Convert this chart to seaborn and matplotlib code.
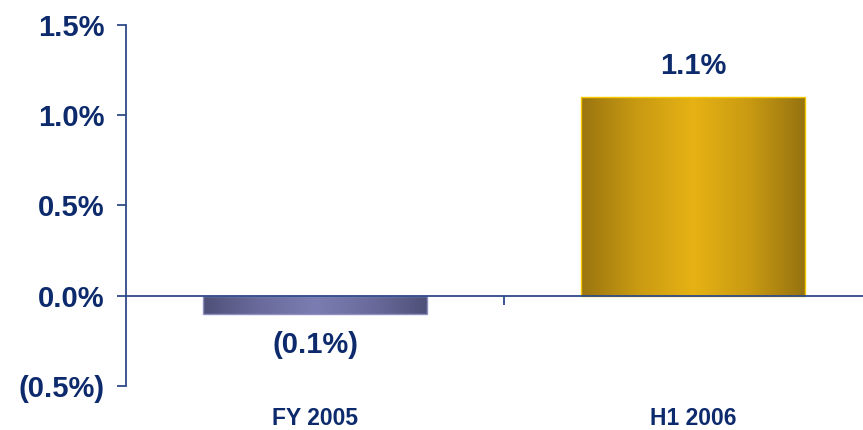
import numpy as np
import pandas as pd
import matplotlib
matplotlib.use("Agg")
import matplotlib.pyplot as plt
import seaborn as sns
from matplotlib import font_manager
from matplotlib.colors import LinearSegmentedColormap

# Data
categories = ["FY 2005", "H1 2006"]
values = [-0.1, 1.1]
value_labels = ["(0.1%)", "1.1%"]
y_ticks = [-0.5, 0.0, 0.5, 1.0, 1.5]
y_tick_labels = ["(0.5%)", "0.0%", "0.5%", "1.0%", "1.5%"]

sns.set_style("white")
plt.rcParams["font.family"] = ["Liberation Sans", "DejaVu Sans"]

# Narrow face for the category labels when available
narrow = "Liberation Sans Narrow"
try:
    font_manager.findfont(font_manager.FontProperties(family=narrow),
                          fallback_to_default=False)
    cat_family = [narrow, "Liberation Sans"]
    cat_size = 20.5
except Exception:
    cat_family = ["Liberation Sans"]
    cat_size = 16.5

NAVY = "#0c2a6c"
AXIS = "#2e4a8a"

# Horizontal shading for each bar: dark edges, bright centre
bar_shades = [
    ["#4f5078", "#6a6b9c", "#7b7db2", "#6a6b9c", "#4f5078"],
    ["#9a7510", "#c99a12", "#e6b214", "#c99a12", "#957210"],
]
bar_edges = ["#8e90c0", "#f5c800"]

fig = plt.figure(figsize=(8.63, 4.30), dpi=100)
ax = fig.add_axes([126 / 863, 44 / 430, 756 / 863, 361.5 / 430])

df = pd.DataFrame({"period": categories, "change": values})
sns.barplot(data=df, x="period", y="change", width=0.595, ax=ax,
            color="#888888", saturation=1, zorder=1)

ax.set_xlim(-0.5, 1.5)
ax.set_ylim(-0.5, 1.5)

# Gradient fill clipped to each bar
for patch, shades, edge in zip(ax.patches, bar_shades, bar_edges):
    x0, y0 = patch.get_x(), patch.get_y()
    w, h = patch.get_width(), patch.get_height()
    cmap = LinearSegmentedColormap.from_list("shade", shades)
    grad = np.linspace(0, 1, 256).reshape(1, -1)
    im = ax.imshow(grad, cmap=cmap, aspect="auto", interpolation="bicubic",
                   extent=(x0, x0 + w, y0, y0 + h), zorder=1.2)
    im.set_clip_path(patch)
    patch.set_facecolor("none")
    patch.set_edgecolor(edge)
    patch.set_linewidth(1.0)
    patch.set_zorder(1.5)

ax.set_xlim(-0.5, 1.5)
ax.set_ylim(-0.5, 1.5)

# Value labels
for i, (v, lab) in enumerate(zip(values, value_labels)):
    offset = 22 if v >= 0 else -22.5
    ax.annotate(lab, xy=(i, v), xytext=(0, offset), textcoords="offset points",
                ha="center", va="center", fontsize=21, fontweight="bold",
                color=NAVY)

# Axes styling
for side in ["top", "right"]:
    ax.spines[side].set_visible(False)
ax.spines["left"].set_color(AXIS)
ax.spines["left"].set_linewidth(1.3)
ax.spines["bottom"].set_position(("data", 0))
ax.spines["bottom"].set_color(AXIS)
ax.spines["bottom"].set_linewidth(1.3)
ax.spines["bottom"].set_zorder(3)

ax.set_yticks(y_ticks)
ax.set_yticklabels(y_tick_labels)
ax.tick_params(axis="y", left=True, direction="out", length=6.5, width=1.3,
               color=AXIS, pad=9, labelsize=21, labelcolor=NAVY)
for t in ax.get_yticklabels():
    t.set_fontweight("bold")

ax.set_xticks([0, 1])
ax.set_xticklabels(categories)
ax.set_xticks([0.5], minor=True)
ax.tick_params(axis="x", which="major", bottom=False, pad=76.5,
               labelcolor=NAVY)
ax.tick_params(axis="x", which="minor", bottom=True, direction="out",
               length=6.5, width=1.3, color=AXIS)
for t in ax.get_xticklabels():
    t.set_fontweight("bold")
    t.set_family(cat_family)
    t.set_fontsize(cat_size)

ax.set_xlabel("")
ax.set_ylabel("")

fig.savefig("out.png", dpi=100)
